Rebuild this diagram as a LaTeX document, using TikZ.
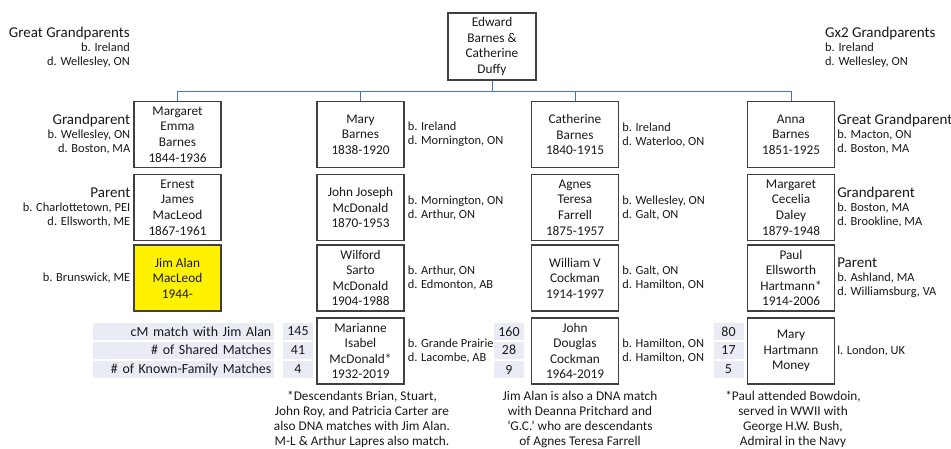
\documentclass[tikz,border=0pt]{standalone}
\usepackage{fontspec}
\setmainfont{Carlito}
\usepackage{xcolor}
\usetikzlibrary{positioning,calc}
\definecolor{boxgray}{RGB}{64,64,64}
\definecolor{linkblue}{RGB}{68,114,196}
\definecolor{tablefill}{RGB}{233,235,245}
\definecolor{inkblack}{RGB}{25,25,25}
\newcommand{\namefont}{\fontsize{13.3}{15.6}\selectfont}
\newcommand{\sidefont}{\fontsize{12.4}{14}\selectfont}
\newcommand{\headfont}{\fontsize{15}{17}\selectfont}
\newcommand{\tablefont}{\fontsize{13.9}{15}\selectfont}
\tikzset{
	person/.style={draw=boxgray, line width=1.1pt, minimum width=87pt, minimum height=66pt,
		inner sep=1pt, align=center, font=\namefont, text=inkblack},
	side/.style={inner sep=1pt, font=\sidefont, text=inkblack},
	link/.style={draw=linkblue, line width=1pt},
	tcell/.style={fill=tablefill, minimum height=17pt, inner sep=0pt, font=\tablefont, text=inkblack},
	note/.style={align=center, inner sep=0pt, font=\fontsize{13.3}{15}\selectfont, text=inkblack},
}
\begin{document}
\begin{tikzpicture}[x=1pt, y=-1pt]
	\useasboundingbox (0,0) rectangle (951,449);

	% founding couple
	\node[person, minimum width=88pt, minimum height=67pt] (top) at (492,46.5) {Edward\\Barnes \&\\Catherine\\Duffy};
	\node[side, anchor=east, align=right] (ggl) at (131,47) {{\headfont Great Grandparents}\\b. Ireland\\d. Wellesley, ON};
	\node[side, anchor=west, align=left] (ggr) at (824,47) {{\headfont Gx2 Grandparents}\\b. Ireland\\d. Wellesley, ON};

	% children
	\node[person] (ga) at (177.5,134.5) {Margaret\\Emma\\Barnes\\1844-1936};
	\node[person] (gb) at (360.5,134.5) {Mary\\Barnes\\1838-1920};
	\node[person] (gc) at (575,134.5) {Catherine\\Barnes\\1840-1915};
	\node[person] (gd) at (791,134.5) {Anna\\Barnes\\1851-1925};

	% grandchildren
	\node[person] (pa) at (177.5,207.5) {Ernest\\James\\MacLeod\\1867-1961};
	\node[person] (pb) at (360.5,207.5) {John Joseph\\McDonald\\1870-1953};
	\node[person] (pc) at (575,207.5) {Agnes\\Teresa\\Farrell\\1875-1957};
	\node[person] (pd) at (791,207.5) {Margaret\\Cecelia\\Daley\\1879-1948};

	% great grandchildren
	\node[person, fill=yellow] (ja) at (177.5,278) {Jim Alan\\MacLeod\\1944-};
	\node[person] (jb) at (360.5,278) {Wilford\\Sarto\\McDonald\\1904-1988};
	\node[person] (jc) at (575,278) {William V\\Cockman\\1914-1997};
	\node[person] (jd) at (791,278) {Paul\\Ellsworth\\Hartmann*\\1914-2006};

	% DNA matches
	\node[person] (mb) at (360.5,351) {Marianne\\Isabel\\McDonald*\\1932-2019};
	\node[person] (mc) at (575,351) {John\\Douglas\\Cockman\\1964-2019};
	\node[person] (md) at (791,351) {Mary\\Hartmann\\Money};

	% connectors
	\coordinate (bus) at ($(top.south)+(0,11)$);
	\draw[link] (top.south) -- (bus);
	\foreach \c in {ga,gb,gc,gd}
		\draw[link] (\c.north) |- (bus);

	% places, left column
	\node[side, align=right, left=2pt of ga] (ga-txt) {{\headfont Grandparent}\\b. Wellesley, ON\\d. Boston, MA};
	\node[side, align=right, left=2pt of pa] (pa-txt) {{\headfont Parent}\\b. Charlottetown, PEI\\d. Ellsworth, ME};
	\node[side, left=2pt of ja] (ja-txt) {b. Brunswick, ME};

	% places, second column
	\node[side, align=left, right=2pt of gb] (gb-txt) {b. Ireland\\d. Mornington, ON};
	\node[side, align=left, right=2pt of pb] (pb-txt) {b. Mornington, ON\\d. Arthur, ON};
	\node[side, align=left, right=2pt of jb] (jb-txt) {b. Arthur, ON\\d. Edmonton, AB};
	\node[side, align=left, right=2pt of mb] (mb-txt) {b. Grande Prairie\\d. Lacombe, AB};

	% places, third column
	\node[side, align=left, right=2pt of gc] (gc-txt) {b. Ireland\\d. Waterloo, ON};
	\node[side, align=left, right=2pt of pc] (pc-txt) {b. Wellesley, ON\\d. Galt, ON};
	\node[side, align=left, right=2pt of jc] (jc-txt) {b. Galt, ON\\d. Hamilton, ON};
	\node[side, align=left, right=2pt of mc] (mc-txt) {b. Hamilton, ON\\d. Hamilton, ON};

	% places, right column
	\node[side, align=left, right=1pt of gd] (gd-txt) {{\headfont Great Grandparent}\\b. Macton, ON\\d. Boston, MA};
	\node[side, align=left, right=1pt of pd] (pd-txt) {{\headfont Grandparent}\\b. Boston, MA\\d. Brookline, MA};
	\node[side, align=left, right=1pt of jd] (jd-txt) {{\headfont Parent}\\b. Ashland, MA\\d. Williamsburg, VA};
	\node[side, right=1pt of md] (md-txt) {l. London, UK};

	% match table
	\foreach \y/\t [count=\i] in {331.5/cM match with Jim Alan, 350/\# of Shared Matches, 369.5/\# of Known-Family Matches}
		\node[tcell, anchor=east, minimum width=181pt, text width=176pt, align=right] (lab\i) at (274,\y) {\t};
	\foreach \x/\a/\b/\c [count=\k] in {298/145/41/4, 509/160/28/9, 728.5/80/17/5} {
		\node[tcell, minimum width=30pt] (num\k-1) at (\x,331.5) {\a};
		\node[tcell, minimum width=30pt] (num\k-2) at (\x,350) {\b};
		\node[tcell, minimum width=30pt] (num\k-3) at (\x,369.5) {\c};
	}

	% notes
	\node[note] (note1) at (362,419.5) {*Descendants Brian, Stuart,\\John Roy, and Patricia Carter are\\also DNA matches with Jim Alan.\\M-L \& Arthur Lapres also match.};
	\node[note] (note2) at (580,419.5) {Jim Alan is also a DNA match\\with Deanna Pritchard and\\‘G.C.’ who are descendants\\of Agnes Teresa Farrell};
	\node[note] (note3) at (793,419) {*Paul attended Bowdoin,\\served in WWII with\\George H.W. Bush,\\Admiral in the Navy};

\end{tikzpicture}
\end{document}
